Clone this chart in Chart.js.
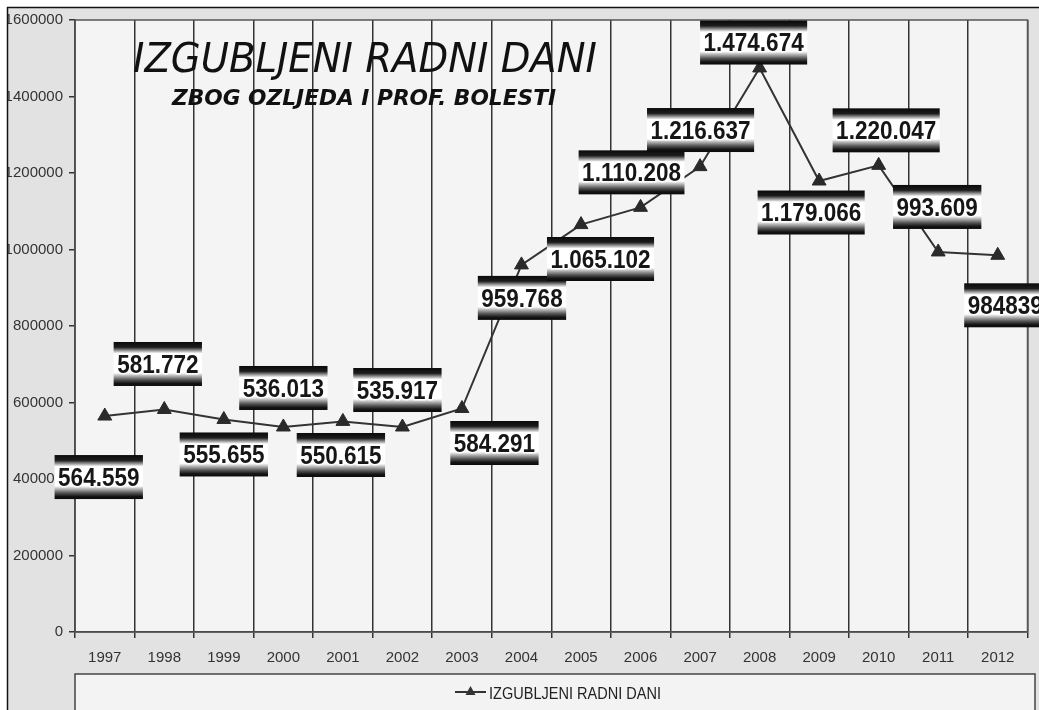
<!DOCTYPE html>
<html><head><meta charset="utf-8">
<script src="https://cdn.jsdelivr.net/npm/chart.js@4.4.0/dist/chart.umd.min.js"></script>
<style>html,body{margin:0;padding:0;background:#fff;overflow:hidden}canvas{display:block}</style>
</head><body>
<canvas id="c" width="1039" height="710"></canvas>
<script>
// ---- data ----
const years = ['1997','1998','1999','2000','2001','2002','2003','2004','2005','2006','2007','2008','2009','2010','2011','2012'];
const lostDays = [564559,581772,555655,536013,550615,535917,584291,959768,1065102,1110208,1216637,1474674,1179066,1220047,993609,984839];
const valueLabels = ['564.559','581.772','555.655','536.013','550.615','535.917','584.291','959.768','1.065.102','1.110.208','1.216.637','1.474.674','1.179.066','1.220.047','993.609','984839'];
const yTicks = [0,200000,400000,600000,800000,1000000,1200000,1400000,1600000];
const seriesName = 'IZGUBLJENI RADNI DANI';
const titleText = 'IZGUBLJENI RADNI DANI';
const subtitleText = 'ZBOG OZLJEDA I PROF. BOLESTI';

// ---- layout (pixel offsets of each value box from its point) ----
const labelOffsets = [[-6,61],[-6.5,-45.5],[0,35],[0,-39],[-2,33.6],[-5,-37],[32.5,34.5],[0.5,33],[19.5,34.4],[-9,-35],[0.5,-36.6],[-6,-25.4],[-8,31.5],[7.5,-35],[-1,-45],[7.5,50]];

const TICKFONT = '"Liberation Sans", Arial, sans-serif';

const deco = {
  id:'deco',
  beforeDraw(chart){
    const ctx = chart.ctx, W = chart.width, H = chart.height, a = chart.chartArea;
    ctx.save();
    ctx.fillStyle = '#fff'; ctx.fillRect(0,0,W,H);
    ctx.fillStyle = '#e2e2e2'; ctx.fillRect(7,7,W-7,H-7);
    ctx.strokeStyle = '#111'; ctx.lineWidth = 1.5;
    ctx.beginPath(); ctx.moveTo(7,7.5); ctx.lineTo(W,7.5); ctx.moveTo(7.5,7); ctx.lineTo(7.5,H); ctx.stroke();
    // plot area
    ctx.fillStyle = '#f4f4f4'; ctx.fillRect(a.left,a.top,a.right-a.left,a.bottom-a.top);
    // legend frame
    ctx.fillStyle = '#f3f3f3'; ctx.fillRect(75,674,960,50);
    ctx.strokeStyle = '#444'; ctx.lineWidth = 1.5; ctx.strokeRect(75,674,960,50);
    ctx.restore();
  },
  beforeDatasetsDraw(chart){
    const ctx = chart.ctx, a = chart.chartArea;
    ctx.save();
    ctx.strokeStyle = '#555'; ctx.lineWidth = 1.5;
    ctx.strokeRect(a.left,a.top,a.right-a.left,a.bottom-a.top);
    // title
    ctx.fillStyle = '#111';
    ctx.textAlign = 'left'; ctx.textBaseline = 'alphabetic';
    ctx.font = 'oblique 41px "DejaVu Sans", Verdana, sans-serif';
    ctx.fillText(titleText, 133, 72, 464);
    ctx.font = 'bold oblique 22px "DejaVu Sans", Verdana, sans-serif';
    ctx.fillText(subtitleText, 172, 105, 384);
    ctx.restore();
  },
  afterDraw(chart){
    const ctx = chart.ctx;
    const meta = chart.getDatasetMeta(0);
    ctx.save();
    ctx.font = 'bold 25px "Liberation Sans", Arial, sans-serif';
    meta.data.forEach((p,i)=>{
      const txt = valueLabels[i];
      const sx = 0.9;
      const tw = ctx.measureText(txt).width * sx;
      const bw = tw + 7, bh = 44;
      const cx = p.x + labelOffsets[i][0], cy = p.y + labelOffsets[i][1];
      const x0 = cx - bw/2, y0 = cy - bh/2;
      const g = ctx.createLinearGradient(0,y0,0,y0+bh);
      g.addColorStop(0,'#0a0a0a'); g.addColorStop(0.12,'#1c1c1c'); g.addColorStop(0.26,'#ffffff');
      g.addColorStop(0.7,'#ffffff'); g.addColorStop(0.86,'#555555'); g.addColorStop(0.94,'#141414'); g.addColorStop(1,'#0a0a0a');
      ctx.fillStyle = g; ctx.fillRect(x0,y0,bw,bh);
      ctx.save();
      ctx.translate(cx, cy+2); ctx.scale(sx,1);
      ctx.textAlign='center'; ctx.textBaseline='middle';
      ctx.lineJoin='round'; ctx.lineWidth=3; ctx.strokeStyle='rgba(255,255,255,0.9)';
      ctx.strokeText(txt,0,0);
      ctx.fillStyle='#161616'; ctx.fillText(txt,0,0);
      ctx.restore();
    });
    // legend
    ctx.strokeStyle = '#333'; ctx.lineWidth = 2;
    ctx.beginPath(); ctx.moveTo(455,692); ctx.lineTo(486,692); ctx.stroke();
    ctx.fillStyle = '#333';
    ctx.beginPath(); ctx.moveTo(470.5,686); ctx.lineTo(475.5,695); ctx.lineTo(465.5,695); ctx.closePath(); ctx.fill();
    ctx.fillStyle = '#222'; ctx.textAlign='left'; ctx.textBaseline='middle';
    ctx.font = '17px ' + TICKFONT;
    ctx.fillText(seriesName, 489, 694, 172);
    ctx.restore();
  }
};

new Chart(document.getElementById('c'), {
  type:'line',
  data:{labels:years, datasets:[{
    label:seriesName, data:lostDays,
    borderColor:'#333', borderWidth:2, tension:0, fill:false,
    pointStyle:'triangle', pointRadius:8, pointBackgroundColor:'#2a2a2a', pointBorderColor:'#2a2a2a', pointBorderWidth:1
  }]},
  options:{
    responsive:false, devicePixelRatio:1, animation:false,
    layout:{padding:{left:8, top:20, right:11.5, bottom:0}},
    plugins:{legend:{display:false}, tooltip:{enabled:false}, title:{display:false}},
    scales:{
      x:{
        offset:true,
        grid:{offset:true, color:'#333', lineWidth:1.5, tickLength:6},
        border:{color:'#333', width:1.5},
        ticks:{font:{family:TICKFONT, size:15}, color:'#333', padding:11, maxRotation:0, autoSkip:false},
        afterFit(s){ s.height = 78; }
      },
      y:{
        min:0, max:1600000,
        grid:{drawOnChartArea:false, color:'#333', lineWidth:1.5, tickLength:6},
        border:{color:'#333', width:1.5},
        ticks:{font:{family:TICKFONT, size:15}, color:'#333', padding:6, callback:v=>String(v)},
        afterBuildTicks(s){ s.ticks = yTicks.map(v=>({value:v})); },
        afterFit(s){ s.width = 67; }
      }
    }
  },
  plugins:[deco]
});
</script>
</body></html>
